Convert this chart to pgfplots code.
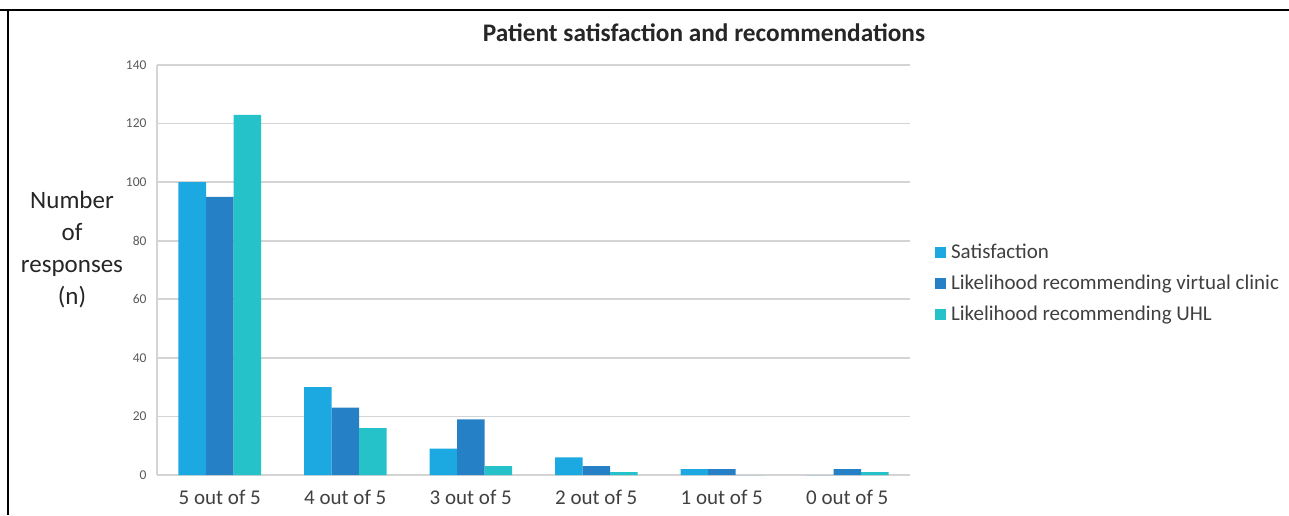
\documentclass[border=0pt]{standalone}
\usepackage{pgfplots}
\pgfplotsset{compat=1.18}
\usepackage{fontspec}
\setmainfont{Carlito}
\definecolor{cSat}{HTML}{1CA9E1}
\definecolor{cVC}{HTML}{2580C6}
\definecolor{cUHL}{HTML}{25C2C9}
\definecolor{gridgray}{HTML}{D4D4D4}
\definecolor{ticktext}{HTML}{595959}
\definecolor{labtext}{HTML}{404040}
\begin{document}
\begin{tikzpicture}
\begin{axis}[
  at={(0,0)}, anchor=south west,
  scale only axis,
  width=753pt, height=410pt,
  ybar=0pt, bar width=27.5pt,
  xmin=-0.5, xmax=5.5,
  ymin=0, ymax=140,
  ytick={0,20,...,140},
  xtick=data,
  xticklabels={5 out of 5,4 out of 5,3 out of 5,2 out of 5,1 out of 5,0 out of 5},
  x tick label style={font=\fontsize{21}{24}\selectfont, text=labtext, yshift=-12pt},
  y tick label style={font=\fontsize{13.5}{15}\selectfont, text=ticktext, xshift=-7pt},
  /pgf/number format/assume math mode=true,
  ymajorgrids, grid style={gridgray, line width=1.7pt},
  axis x line*=bottom, axis y line*=left,
  axis line style={gridgray, line width=1.7pt, -},
  major tick length=0pt,
  legend style={at={(1.033,0.468)}, anchor=west, draw=none, fill=none,
    font=\fontsize{21}{24}\selectfont, text=labtext,
    row sep=11pt, inner sep=0pt},
  legend cell align=left,
  legend image code/.code={\fill[#1] (0pt,-5.5pt) rectangle (11pt,5.5pt);},
]
\addplot[fill=cSat, draw=none] coordinates {(0,100) (1,30) (2,9) (3,6) (4,2) (5,0)};
\addplot[fill=cVC, draw=none] coordinates {(0,95) (1,23) (2,19) (3,3) (4,2) (5,2)};
\addplot[fill=cUHL, draw=none] coordinates {(0,123) (1,16) (2,3) (3,1) (4,0) (5,1)};
\legend{\hspace{3pt}Satisfaction, \hspace{3pt}Likelihood recommending virtual clinic, \hspace{3pt}Likelihood recommending UHL}
\end{axis}
\node[font=\bfseries\fontsize{25.3}{28}\selectfont, text=black!85] at (547pt,442pt) {Patient satisfaction and recommendations};
\node[font=\fontsize{25}{32}\selectfont, text=black!85, align=center] at (-85pt,225pt) {Number\\of\\responses\\(n)};
\fill[black] (-157pt,464pt) rectangle (1132pt,466pt);
\fill[black] (-150pt,466pt) rectangle (-148pt,-40pt);
\path[use as bounding box] (-157pt,-40pt) rectangle (1132pt,475pt);
\end{tikzpicture}
\end{document}
